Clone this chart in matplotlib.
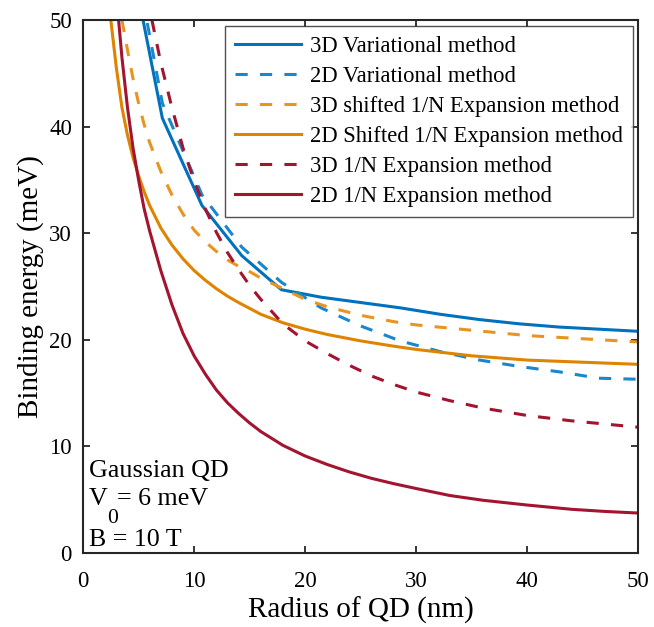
import matplotlib
matplotlib.use("Agg")
import matplotlib.pyplot as plt

plt.rcParams['font.family'] = ['Liberation Serif', 'DejaVu Serif']
plt.rcParams['axes.formatter.use_mathtext'] = False

# 3D variational method (sampled every 50/14 nm)
r_var3d = [3.57, 7.14, 10.71, 14.29, 17.86, 21.43, 25.0, 28.57, 32.14, 35.71, 39.29, 42.86, 46.43, 50.0]
e_var3d = [59.7, 40.8, 32.6, 27.9, 24.7, 24.0, 23.5, 23.0, 22.4, 21.9, 21.5, 21.2, 21.0, 20.8]

# 2D variational method
r_var2d = [3.57, 7.14, 10.71, 14.29, 17.86, 21.43, 25.0, 28.57, 32.14, 35.71, 39.29, 42.86, 46.43, 50.0]
e_var2d = [62.0, 42.2, 33.6, 28.7, 25.4, 23.0, 21.3, 19.9, 18.9, 18.1, 17.5, 17.0, 16.4, 16.3]

# 3D shifted 1/N expansion
r_s3d = [3.5, 4, 4.5, 5, 5.5, 6, 7, 8, 9, 10, 11, 12, 13, 14, 15, 16, 18, 20, 22, 25, 28, 30, 35, 40, 45, 50]
e_s3d = [50.0, 47.2, 44.5, 42.2, 40.2, 38.5, 35.8, 33.6, 31.8, 30.3, 29.2, 28.3, 27.5, 26.9, 26.4, 25.8,
         24.8, 23.8, 23.1, 22.3, 21.7, 21.4, 20.9, 20.4, 20.1, 19.8]

# 2D shifted 1/N expansion
r_s2d = [2.5, 3, 3.5, 4, 4.5, 5, 5.5, 6, 7, 8, 9, 10, 11, 12, 13, 14, 16, 18, 20, 22, 25, 28, 30, 35, 40, 45, 50]
e_s2d = [50.0, 45.5, 41.8, 39.2, 37.1, 35.4, 33.9, 32.6, 30.5, 28.9, 27.6, 26.5, 25.6, 24.8, 24.1, 23.5,
         22.4, 21.6, 21.0, 20.5, 19.9, 19.4, 19.1, 18.5, 18.1, 17.9, 17.7]

# 3D 1/N expansion
r_n3d = [6.2, 7, 8, 9, 10, 11, 12, 13, 14, 15, 16, 18, 20, 22, 24, 26, 28, 30, 33, 36, 40, 44, 47, 50]
e_n3d = [50.0, 46.0, 41.8, 38.0, 34.9, 32.3, 30.1, 28.2, 26.6, 25.1, 23.8, 21.5, 19.9, 18.7, 17.6, 16.6,
         15.8, 15.1, 14.3, 13.6, 12.9, 12.4, 12.1, 11.8]

# 2D 1/N expansion
r_n2d = [3.2, 3.5, 4, 4.5, 5, 5.5, 6, 7, 8, 9, 10, 11, 12, 13, 14, 15, 16, 18, 20, 22, 24, 26, 28, 30,
         33, 36, 40, 44, 47, 50]
e_n2d = [50.0, 46.5, 41.8, 38.0, 35.0, 32.3, 30.2, 26.5, 23.3, 20.6, 18.5, 16.8, 15.3, 14.1, 13.1, 12.2,
         11.4, 10.1, 9.1, 8.3, 7.6, 7.0, 6.5, 6.05, 5.4, 4.95, 4.5, 4.1, 3.9, 3.75]

ticks = [0, 10, 20, 30, 40, 50]
tick_labels = ['0', '10', '20', '30', '40', '50']

blue = '#0072BD'
blue_d = '#1A86CC'
orange = '#DE8400'
orange_d = '#E8951F'
red = '#A2142F'

fig = plt.figure(figsize=(6.54, 6.27), dpi=100)
ax = fig.add_axes([0.127, 0.118, 0.849, 0.85])

lw = 2.2
dash = (4, 4)
ax.plot(r_var3d, e_var3d, color=blue, lw=lw, label='3D Variational method')
ax.plot(r_var2d, e_var2d, color=blue_d, lw=lw, dashes=dash, label='2D Variational method')
ax.plot(r_s3d, e_s3d, color=orange_d, lw=lw, dashes=dash, label='3D shifted 1/N Expansion method')
ax.plot(r_s2d, e_s2d, color=orange, lw=lw, label='2D Shifted 1/N Expansion method')
ax.plot(r_n3d, e_n3d, color=red, lw=lw, dashes=dash, label='3D 1/N Expansion method')
ax.plot(r_n2d, e_n2d, color=red, lw=lw, label='2D 1/N Expansion method')

ax.set_xlim(0, 50)
ax.set_ylim(0, 50)
ax.set_xticks(ticks, labels=tick_labels, fontfamily='Liberation Serif', fontsize=16.5)
ax.set_yticks(ticks, labels=tick_labels, fontfamily='Liberation Serif', fontsize=16.5)
ax.tick_params(direction='in', top=True, right=True,
               width=1.3, length=5, color='#262626')
ax.tick_params(axis='x', pad=13)
ax.tick_params(axis='y', pad=8)
for sp in ax.spines.values():
    sp.set_linewidth(1.5)
    sp.set_color('#262626')

ax.set_xlabel('Radius of QD (nm)', fontsize=21, labelpad=3)
ax.set_ylabel('Binding energy (meV)', fontsize=21, labelpad=4)

leg = ax.legend(loc='upper right', fontsize=16.3, frameon=True, fancybox=False,
                edgecolor='#262626', handlelength=2.9, handletextpad=0.4,
                borderaxespad=0.25, labelspacing=0.4, borderpad=0.45)
leg.get_frame().set_linewidth(1.0)

# parameter note in the lower-left corner; the subscript sits low under the V
ax.text(0.5, 7.1, 'Gaussian QD', fontsize=18.7, va='baseline')
ax.text(0.5, 4.5, 'V', fontsize=18.7, va='baseline')
ax.text(2.2, 2.85, '0', fontsize=15.5, va='baseline')
ax.text(3.1, 4.5, '= 6 meV', fontsize=18.7, va='baseline')
ax.text(0.5, 0.65, 'B = 10 T', fontsize=18.7, va='baseline')

fig.savefig('out.png', dpi=100)
